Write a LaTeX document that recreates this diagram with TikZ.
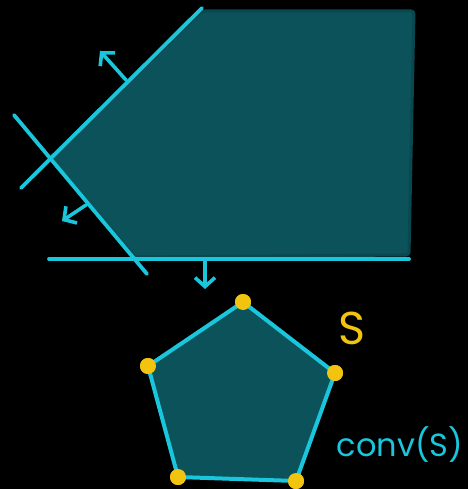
\documentclass[tikz,border=0pt]{standalone}
\usepackage{fontspec}
\newfontfamily\handfont{Poppins}
\usetikzlibrary{arrows.meta}
\definecolor{teal1}{HTML}{0B525B}
\definecolor{tealedge}{HTML}{0A4850}
\definecolor{cyanl}{HTML}{19C6DC}
\definecolor{goldy}{HTML}{F2C40F}
\tikzset{
  halfplane/.style={draw=cyanl, line width=3.8pt, line cap=round},
  normalarrow/.style={draw=cyanl, line width=3.6pt, line cap=round, line join=round,
    -{Straight Barb[length=9pt,width=20pt,line width=3.6pt]}},
  region/.style={fill=teal1, draw=tealedge, line width=3pt, line join=round, rounded corners=3pt},
  hull/.style={fill=teal1, draw=cyanl, line width=4pt, line join=round},
  pt/.style={circle, fill=goldy, inner sep=0pt, minimum size=16pt},
  lbl/.style={font=\handfont}
}
\begin{document}
\begin{tikzpicture}[x=1pt,y=-1pt]
  \fill[black] (0,0) rectangle (468,489);
  \useasboundingbox (0,0) rectangle (468,489);
  % feasible region
  \path[region] (202,11) -- (414,11) -- (409,255) -- (135,257) -- (50,158) -- cycle;
  % half-plane boundaries
  \coordinate (l1a) at (202,8);
  \coordinate (l1b) at (21,188);
  \coordinate (l2a) at (14,115);
  \coordinate (l2b) at (147,274);
  \coordinate (l3a) at (49,259);
  \coordinate (l3b) at (409,259);
  \draw[halfplane] (l1a) -- (l1b);
  \draw[halfplane] (l2a) -- (l2b);
  \draw[halfplane] (l3a) -- (l3b);
  % normals
  \coordinate (n1s) at (126,80);
  \coordinate (n1e) at (100,51);
  \coordinate (n2s) at (86,205);
  \coordinate (n2e) at (62,221);
  \coordinate (n3s) at (205,261);
  \coordinate (n3e) at (205,289);
  \draw[normalarrow] (n1s) -- (n1e);
  \draw[normalarrow] (n2s) -- (n2e);
  \draw[normalarrow] (n3s) -- (n3e);
  % convex hull
  \node[pt] (p1) at (243,302) {};
  \node[pt] (p2) at (335,373) {};
  \node[pt] (p3) at (296,481) {};
  \node[pt] (p4) at (178,477) {};
  \node[pt] (p5) at (148,366) {};
  \draw[hull] (p1.center) -- (p2.center) -- (p3.center) -- (p4.center) -- (p5.center) -- cycle;
  \foreach \p in {p1,p2,p3,p4,p5} \node[pt] at (\p) {};
  \node[lbl, text=goldy, font=\handfont\fontsize{46}{46}\selectfont] (S) at (352,328) {S};
  \node[lbl, text=cyanl, font=\handfont\fontsize{32}{32}\selectfont] (conv) at (400,445) {conv(S)};
\end{tikzpicture}
\end{document}
